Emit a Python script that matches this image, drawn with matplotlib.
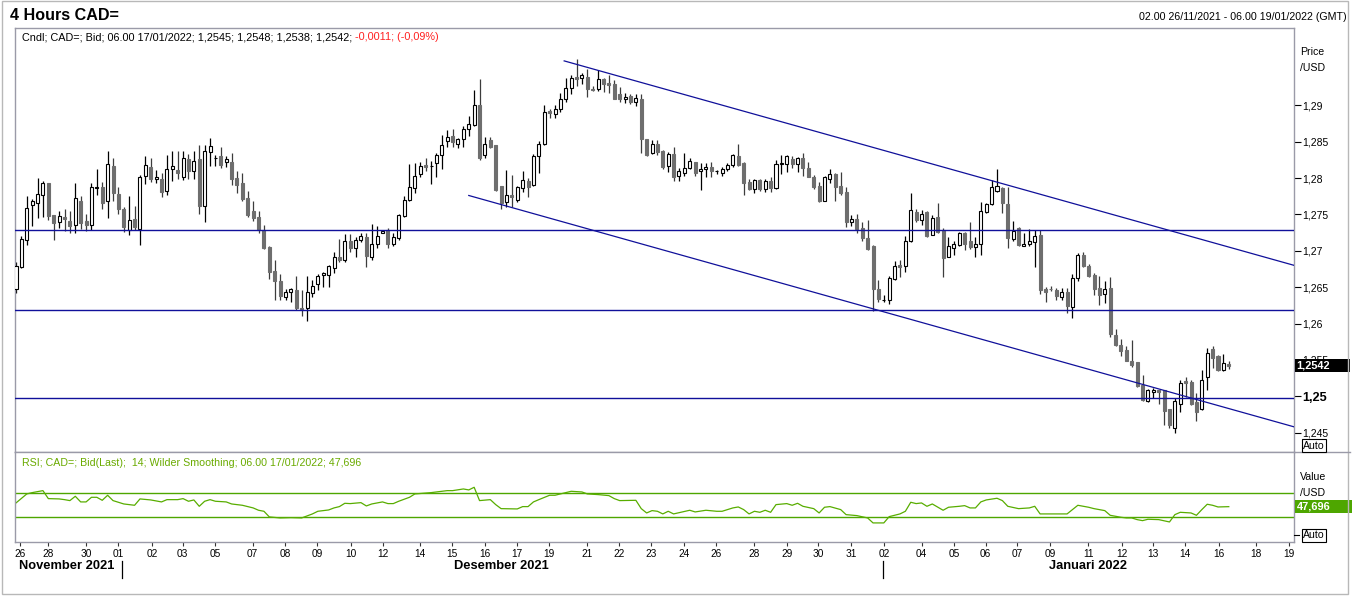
import numpy as np
import matplotlib
matplotlib.use("Agg")
import matplotlib.pyplot as plt
from matplotlib.patches import Rectangle
from matplotlib.lines import Line2D
import matplotlib.transforms as mtransforms

plt.rcParams['font.family'] = ['Liberation Sans', 'DejaVu Sans']

# 4h candles CAD=, 02.00 26/11/2021 .. 06.00 17/01/2022
opens = [
    1.2648, 1.2678, 1.2715, 1.2763, 1.2765, 1.2776, 1.2793, 1.2749, 1.2739, 1.2747,
    1.2741, 1.2735, 1.2769, 1.2741, 1.2736, 1.2786, 1.2787, 1.2768, 1.2816, 1.2778,
    1.2757, 1.2729, 1.2743, 1.2730, 1.2803, 1.2815, 1.2799, 1.2798, 1.2782, 1.2813,
    1.2811, 1.2802, 1.2826, 1.2810, 1.2826, 1.2762, 1.2836, 1.2827, 1.2830, 1.2822,
    1.2822, 1.2800, 1.2793, 1.2772, 1.2755, 1.2746, 1.2728, 1.2705, 1.2672, 1.2658,
    1.2637, 1.2643, 1.2646, 1.2622, 1.2621, 1.2642, 1.2654, 1.2667, 1.2667, 1.2677,
    1.2691, 1.2688, 1.2713, 1.2704, 1.2715, 1.2719, 1.2692, 1.2710, 1.2725, 1.2729,
    1.2709, 1.2717, 1.2748, 1.2770, 1.2786, 1.2806, 1.2818, 1.2816, 1.2820, 1.2832,
    1.2851, 1.2858, 1.2847, 1.2853, 1.2867, 1.2873, 1.2901, 1.2832, 1.2852, 1.2845,
    1.2789, 1.2767, 1.2776, 1.2770, 1.2786, 1.2796, 1.2790, 1.2830, 1.2847, 1.2892,
    1.2888, 1.2895, 1.2909, 1.2924, 1.2939, 1.2937, 1.2939, 1.2923, 1.2922, 1.2936,
    1.2931, 1.2929, 1.2915, 1.2908, 1.2913, 1.2904, 1.2909, 1.2854, 1.2834, 1.2847,
    1.2837, 1.2817, 1.2833, 1.2803, 1.2807, 1.2814, 1.2822, 1.2810, 1.2812, 1.2815,
    1.2810, 1.2807, 1.2812, 1.2818, 1.2830, 1.2821, 1.2795, 1.2785, 1.2797, 1.2785,
    1.2796, 1.2786, 1.2819, 1.2819, 1.2826, 1.2819, 1.2827, 1.2814, 1.2802, 1.2789,
    1.2769, 1.2799, 1.2805, 1.2789, 1.2781, 1.2739, 1.2743, 1.2731, 1.2717, 1.2706,
    1.2647, 1.2632, 1.2632, 1.2661, 1.2680, 1.2679, 1.2714, 1.2753, 1.2742, 1.2753,
    1.2722, 1.2746, 1.2728, 1.2692, 1.2704, 1.2708, 1.2724, 1.2713, 1.2705, 1.2709,
    1.2753, 1.2764, 1.2782, 1.2786, 1.2764, 1.2716, 1.2731, 1.2707, 1.2710, 1.2712,
    1.2722, 1.2647, 1.2648, 1.2646, 1.2637, 1.2643, 1.2623, 1.2662, 1.2694, 1.2679,
    1.2667, 1.2649, 1.2640, 1.2649, 1.2584, 1.2571, 1.2563, 1.2549, 1.2547, 1.2515,
    1.2494, 1.2506, 1.2508, 1.2508, 1.2483, 1.2457, 1.2490, 1.2521, 1.2520, 1.2492,
    1.2482, 1.2527, 1.2565, 1.2556, 1.2536, 1.2545,
]
highs = [
    1.2685, 1.2720, 1.2775, 1.2771, 1.2800, 1.2796, 1.2793, 1.2749, 1.2754, 1.2758,
    1.2754, 1.2793, 1.2775, 1.2750, 1.2793, 1.2812, 1.2794, 1.2837, 1.2827, 1.2787,
    1.2760, 1.2775, 1.2761, 1.2804, 1.2830, 1.2827, 1.2811, 1.2807, 1.2832, 1.2837,
    1.2837, 1.2837, 1.2833, 1.2837, 1.2845, 1.2846, 1.2855, 1.2831, 1.2843, 1.2830,
    1.2835, 1.2809, 1.2807, 1.2782, 1.2769, 1.2755, 1.2736, 1.2706, 1.2687, 1.2668,
    1.2648, 1.2649, 1.2665, 1.2646, 1.2666, 1.2660, 1.2668, 1.2671, 1.2681, 1.2698,
    1.2716, 1.2723, 1.2723, 1.2719, 1.2724, 1.2725, 1.2737, 1.2734, 1.2729, 1.2731,
    1.2725, 1.2751, 1.2775, 1.2819, 1.2821, 1.2822, 1.2827, 1.2823, 1.2835, 1.2859,
    1.2866, 1.2868, 1.2855, 1.2871, 1.2885, 1.2921, 1.2936, 1.2857, 1.2857, 1.2846,
    1.2789, 1.2811, 1.2804, 1.2789, 1.2809, 1.2800, 1.2833, 1.2851, 1.2901, 1.2895,
    1.2901, 1.2917, 1.2937, 1.2941, 1.2963, 1.2944, 1.2950, 1.2927, 1.2948, 1.2938,
    1.2942, 1.2935, 1.2925, 1.2917, 1.2916, 1.2915, 1.2916, 1.2854, 1.2852, 1.2852,
    1.2839, 1.2836, 1.2842, 1.2814, 1.2834, 1.2827, 1.2822, 1.2821, 1.2821, 1.2822,
    1.2811, 1.2815, 1.2820, 1.2833, 1.2847, 1.2822, 1.2799, 1.2799, 1.2798, 1.2799,
    1.2802, 1.2825, 1.2831, 1.2832, 1.2830, 1.2829, 1.2835, 1.2822, 1.2804, 1.2795,
    1.2803, 1.2812, 1.2807, 1.2808, 1.2788, 1.2749, 1.2750, 1.2740, 1.2742, 1.2708,
    1.2660, 1.2639, 1.2666, 1.2686, 1.2688, 1.2720, 1.2780, 1.2758, 1.2756, 1.2754,
    1.2749, 1.2766, 1.2731, 1.2719, 1.2714, 1.2726, 1.2726, 1.2740, 1.2719, 1.2767,
    1.2765, 1.2797, 1.2813, 1.2787, 1.2788, 1.2741, 1.2732, 1.2724, 1.2730, 1.2728,
    1.2728, 1.2650, 1.2651, 1.2649, 1.2649, 1.2649, 1.2668, 1.2697, 1.2698, 1.2682,
    1.2670, 1.2666, 1.2659, 1.2664, 1.2592, 1.2579, 1.2569, 1.2577, 1.2547, 1.2529,
    1.2510, 1.2511, 1.2509, 1.2509, 1.2483, 1.2497, 1.2523, 1.2527, 1.2522, 1.2504,
    1.2536, 1.2567, 1.2569, 1.2557, 1.2558, 1.2548,
]
lows = [
    1.2642, 1.2677, 1.2708, 1.2734, 1.2745, 1.2747, 1.2742, 1.2715, 1.2731, 1.2727,
    1.2724, 1.2725, 1.2730, 1.2727, 1.2728, 1.2776, 1.2758, 1.2745, 1.2768, 1.2750,
    1.2726, 1.2721, 1.2728, 1.2708, 1.2792, 1.2794, 1.2793, 1.2774, 1.2777, 1.2796,
    1.2799, 1.2797, 1.2799, 1.2798, 1.2751, 1.2739, 1.2816, 1.2816, 1.2814, 1.2815,
    1.2791, 1.2779, 1.2768, 1.2747, 1.2741, 1.2724, 1.2702, 1.2661, 1.2633, 1.2633,
    1.2632, 1.2630, 1.2618, 1.2611, 1.2604, 1.2636, 1.2646, 1.2650, 1.2650, 1.2669,
    1.2684, 1.2684, 1.2698, 1.2691, 1.2712, 1.2678, 1.2687, 1.2704, 1.2724, 1.2704,
    1.2707, 1.2715, 1.2746, 1.2769, 1.2780, 1.2801, 1.2809, 1.2792, 1.2802, 1.2813,
    1.2842, 1.2843, 1.2841, 1.2842, 1.2858, 1.2871, 1.2825, 1.2828, 1.2841, 1.2782,
    1.2758, 1.2760, 1.2760, 1.2767, 1.2781, 1.2774, 1.2789, 1.2807, 1.2846, 1.2882,
    1.2882, 1.2891, 1.2905, 1.2915, 1.2927, 1.2929, 1.2911, 1.2920, 1.2920, 1.2918,
    1.2917, 1.2908, 1.2905, 1.2903, 1.2902, 1.2899, 1.2834, 1.2830, 1.2833, 1.2831,
    1.2813, 1.2808, 1.2796, 1.2796, 1.2803, 1.2813, 1.2803, 1.2784, 1.2802, 1.2802,
    1.2806, 1.2803, 1.2809, 1.2815, 1.2817, 1.2777, 1.2783, 1.2779, 1.2782, 1.2781,
    1.2781, 1.2785, 1.2806, 1.2808, 1.2814, 1.2808, 1.2803, 1.2801, 1.2785, 1.2767,
    1.2768, 1.2793, 1.2768, 1.2776, 1.2732, 1.2734, 1.2725, 1.2713, 1.2701, 1.2617,
    1.2630, 1.2630, 1.2627, 1.2660, 1.2664, 1.2671, 1.2712, 1.2740, 1.2735, 1.2719,
    1.2721, 1.2724, 1.2664, 1.2691, 1.2694, 1.2707, 1.2701, 1.2703, 1.2691, 1.2694,
    1.2752, 1.2763, 1.2781, 1.2752, 1.2704, 1.2714, 1.2706, 1.2706, 1.2706, 1.2678,
    1.2640, 1.2630, 1.2645, 1.2632, 1.2633, 1.2614, 1.2608, 1.2659, 1.2678, 1.2664,
    1.2639, 1.2626, 1.2628, 1.2581, 1.2569, 1.2555, 1.2548, 1.2540, 1.2513, 1.2494,
    1.2492, 1.2497, 1.2490, 1.2460, 1.2456, 1.2450, 1.2478, 1.2499, 1.2488, 1.2466,
    1.2481, 1.2508, 1.2539, 1.2535, 1.2535, 1.2538,
]
closes = [
    1.2679, 1.2716, 1.2759, 1.2768, 1.2778, 1.2793, 1.2748, 1.2738, 1.2748, 1.2744,
    1.2734, 1.2773, 1.2738, 1.2736, 1.2788, 1.2787, 1.2766, 1.2819, 1.2779, 1.2758,
    1.2733, 1.2742, 1.2732, 1.2802, 1.2818, 1.2799, 1.2802, 1.2781, 1.2812, 1.2816,
    1.2807, 1.2827, 1.2810, 1.2823, 1.2762, 1.2837, 1.2844, 1.2828, 1.2818, 1.2826,
    1.2799, 1.2791, 1.2771, 1.2749, 1.2745, 1.2728, 1.2704, 1.2671, 1.2658, 1.2638,
    1.2643, 1.2647, 1.2622, 1.2620, 1.2644, 1.2651, 1.2665, 1.2670, 1.2679, 1.2692,
    1.2687, 1.2713, 1.2704, 1.2715, 1.2720, 1.2693, 1.2710, 1.2720, 1.2727, 1.2709,
    1.2719, 1.2749, 1.2770, 1.2788, 1.2803, 1.2817, 1.2815, 1.2817, 1.2831, 1.2846,
    1.2857, 1.2849, 1.2853, 1.2867, 1.2874, 1.2901, 1.2828, 1.2847, 1.2843, 1.2784,
    1.2766, 1.2776, 1.2774, 1.2787, 1.2797, 1.2788, 1.2830, 1.2847, 1.2891, 1.2889,
    1.2895, 1.2909, 1.2924, 1.2938, 1.2936, 1.2941, 1.2922, 1.2921, 1.2936, 1.2929,
    1.2928, 1.2909, 1.2909, 1.2912, 1.2905, 1.2910, 1.2853, 1.2831, 1.2847, 1.2836,
    1.2815, 1.2833, 1.2802, 1.2809, 1.2814, 1.2823, 1.2807, 1.2813, 1.2815, 1.2810,
    1.2810, 1.2812, 1.2818, 1.2831, 1.2818, 1.2793, 1.2785, 1.2797, 1.2785, 1.2796,
    1.2786, 1.2819, 1.2821, 1.2830, 1.2819, 1.2827, 1.2814, 1.2802, 1.2788, 1.2769,
    1.2802, 1.2805, 1.2788, 1.2780, 1.2740, 1.2744, 1.2730, 1.2718, 1.2703, 1.2647,
    1.2634, 1.2633, 1.2663, 1.2679, 1.2678, 1.2714, 1.2756, 1.2742, 1.2751, 1.2720,
    1.2745, 1.2726, 1.2690, 1.2706, 1.2710, 1.2724, 1.2710, 1.2705, 1.2709, 1.2754,
    1.2764, 1.2788, 1.2789, 1.2765, 1.2718, 1.2727, 1.2708, 1.2710, 1.2713, 1.2720,
    1.2646, 1.2643, 1.2647, 1.2638, 1.2643, 1.2624, 1.2662, 1.2694, 1.2679, 1.2665,
    1.2648, 1.2639, 1.2647, 1.2585, 1.2571, 1.2562, 1.2549, 1.2543, 1.2514, 1.2495,
    1.2508, 1.2508, 1.2506, 1.2480, 1.2460, 1.2493, 1.2518, 1.2518, 1.2490, 1.2478,
    1.2523, 1.2560, 1.2553, 1.2536, 1.2546, 1.2542,
]

# RSI(14): bar index -> value
rsi_bar = [0, 2, 3, 5, 6, 8, 9, 10, 11, 12, 13, 14, 15, 16, 17, 18, 20, 22, 23, 25,
           27, 28, 30, 31, 32, 33, 34, 35, 36, 37, 39, 40, 42, 44, 45, 46, 47, 49, 51, 53,
           55, 56, 58, 59, 60, 61, 62, 64, 65, 66, 68, 69, 70, 71, 73, 74, 77, 79, 80, 81,
           83, 84, 85, 86, 88, 89, 90, 93, 94, 95, 96, 97, 99, 100, 102, 103, 105, 106, 108, 110,
           111, 112, 115, 116, 117, 118, 119, 120, 121, 122, 125, 126, 128, 130, 131, 133, 134, 135, 136, 137,
           138, 139, 140, 141, 143, 144, 145, 146, 148, 149, 150, 151, 153, 154, 156, 158, 159, 161, 162, 164,
           165, 166, 167, 168, 169, 170, 172, 173, 175, 176, 177, 178, 179, 180, 182, 183, 184, 186, 188, 189,
           190, 192, 195, 196, 197, 199, 200, 202, 203, 205, 206, 207, 208, 209, 210, 212, 214, 215, 216, 218,
           219, 220, 221, 222, 223, 225]
rsi_val = [53.9, 68.9, 71.1, 74.4, 61.1, 60.6, 59.4, 57.8, 65.0, 55.6, 55.6, 63.3, 63.3, 58.3, 66.7, 57.8, 52.2, 50.0, 60.6, 58.9,
           55.6, 59.4, 59.4, 61.1, 56.7, 58.9, 48.3, 56.7, 59.4, 56.7, 55.6, 52.2, 50.0, 45.6, 41.7, 40.0, 30.6, 28.9, 29.4, 28.9,
           35.6, 40.0, 42.2, 45.6, 47.8, 53.3, 52.8, 54.4, 48.9, 52.2, 55.6, 52.8, 52.8, 56.7, 63.3, 68.9, 71.1, 73.3, 74.4, 74.4,
           77.2, 75.6, 80.0, 57.8, 59.4, 51.1, 44.4, 43.9, 47.8, 47.8, 55.6, 59.4, 66.7, 66.7, 71.1, 73.3, 72.2, 68.9, 67.8, 66.1,
           61.1, 57.8, 58.3, 44.4, 37.2, 41.1, 40.0, 35.6, 40.0, 35.6, 41.7, 38.9, 41.7, 40.0, 40.0, 45.6, 47.2, 42.8, 35.6, 40.0,
           38.3, 41.7, 38.3, 51.1, 52.8, 50.0, 53.3, 48.3, 44.4, 37.2, 46.7, 47.8, 42.8, 34.4, 32.8, 28.9, 20.6, 20.6, 31.1, 35.6,
           40.0, 55.0, 52.8, 53.9, 48.3, 52.2, 41.7, 46.7, 48.3, 49.4, 45.6, 45.6, 55.6, 58.9, 61.7, 57.8, 48.3, 44.4, 45.6, 48.3,
           35.6, 35.6, 35.6, 42.8, 50.0, 46.7, 44.4, 41.1, 33.3, 30.0, 28.9, 28.9, 26.1, 24.4, 26.7, 26.1, 22.2, 34.4, 38.3, 37.2,
           33.3, 42.8, 51.7, 50.0, 47.2, 47.7]

# day labels on the time axis and their bar positions
tick_pos = [0.7, 5.9, 13.0, 19.0, 25.2, 30.9, 36.9, 43.9, 49.9, 55.9, 62.1, 68.1, 75.0, 80.9,
            87.0, 93.0, 98.9, 106.0, 111.9, 117.8, 123.9, 129.9, 137.0, 143.0, 148.8, 154.9,
            161.0, 168.0, 174.0, 179.9, 185.8, 191.9, 198.9, 205.1, 211.0, 216.9, 223.1, 230.0, 236.2]
tick_lbl = ['26', '28', '30', '01', '02', '03', '05', '07', '08', '09', '10', '12', '14', '15',
            '16', '17', '19', '21', '22', '23', '24', '26', '28', '29', '30', '31',
            '02', '04', '05', '06', '07', '09', '11', '12', '13', '14', '16', '18', '19']
month_lbl = ['November 2021', 'Desember 2021', 'Januari 2022']
month_pos = [0.6, 81.3, 191.6]
month_sep = [19.6, 160.9]

# drawn lines: horizontal levels and the falling channel (bar, price)
levels = [1.2728, 1.2618, 1.2497]
chan_top = ([101.7, 237.1], [1.2961, 1.2680])
chan_bot = ([84.0, 237.1], [1.2776, 1.2458])

price_ticks = [1.245, 1.25, 1.255, 1.26, 1.265, 1.27, 1.275, 1.28, 1.285, 1.29]
last_price = 1.2542
last_rsi = 47.696

W, H = 1352, 596
FRAME = '#9a9aa8'
NAVY = '#10109a'
GREEN = '#4ea600'
FS = 7.8

def fx(px): return px / W
def fy(py): return 1 - py / H

fig = plt.figure(figsize=(W / 100, H / 100), dpi=100)
fig.patch.set_facecolor('white')

ax = fig.add_axes([fx(14.7), fy(452.3), fx(1294) - fx(14.7), fy(28.3) - fy(452.3)])
rax = fig.add_axes([fx(14.7), fy(542.3), fx(1294) - fx(14.7), fy(452.3) - fy(542.3)])

for a in (ax, rax):
    for s in a.spines.values():
        s.set_color(FRAME)
        s.set_linewidth(1)
    a.set_xlim(-0.24, 237.1)

ax.set_ylim(1.24230, 1.30058)
rax.set_ylim(-11.7, 138.3)

# candles
O = np.array(opens); Hh = np.array(highs); L = np.array(lows); C = np.array(closes)
x = np.arange(len(C))
up = C >= O
ax.vlines(x, L, Hh, colors=np.where(up, 'black', '#3c3c3c'), lw=0.9, zorder=2)
ax.bar(x, np.abs(C - O), bottom=np.minimum(O, C), width=0.56,
       color=np.where(up, 'white', '#6e6e6e'), edgecolor=np.where(up, 'black', '#6e6e6e'),
       linewidth=0.8, zorder=3)

for lv in levels:
    ax.axhline(lv, color=NAVY, lw=1, zorder=4)
ax.plot(*chan_top, color=NAVY, lw=0.9, zorder=4)
ax.plot(*chan_bot, color=NAVY, lw=0.9, zorder=4)

# price axis on the right
ax.set_xticks([])
ax.yaxis.tick_right()
ax.set_yticks(price_ticks)
ax.set_yticklabels([('%g' % t).replace('.', ',') for t in price_ticks])
ax.tick_params(axis='y', length=5, width=0.8, pad=1, labelsize=7.5, color='black')
for lab in ax.get_yticklabels():
    if lab.get_text() == '1,25':
        lab.set_fontweight('bold')
        lab.set_fontsize(9.2)

# RSI panel
rax.axhline(70, color=GREEN, lw=1)
rax.axhline(30, color=GREEN, lw=1)
rax.plot(rsi_bar, rsi_val, color='#58ad00', lw=0.9)
rax.set_yticks([])
rax.set_xticks(tick_pos)
rax.set_xticklabels(tick_lbl)
rax.tick_params(axis='x', length=3, width=0.8, pad=1.8, labelsize=7.3, color='#333333')

# month labels and separators under the time axis
tb = mtransforms.blended_transform_factory(rax.transData, rax.transAxes)
for name, p in zip(month_lbl, month_pos):
    rax.text(p, -0.26, name, transform=tb, fontsize=9.3, fontweight='bold',
             ha='left', va='center', clip_on=False)
for p in month_sep:
    rax.add_line(Line2D([p, p], [-0.21, -0.4], color='black', lw=0.9, transform=tb, clip_on=False))

# header texts
fig.text(fx(10), fy(15), '4 Hours CAD=', fontsize=11.6, fontweight='bold', va='center')
fig.text(fx(1346.5), fy(16.5), '02.00 26/11/2021 - 06.00 19/01/2022 (GMT)', fontsize=7.7,
         ha='right', va='center')
t1 = fig.text(fx(22), fy(37.3), 'Cndl; CAD=; Bid; 06.00 17/01/2022; 1,2545; 1,2548; 1,2538; 1,2542; ',
              fontsize=FS, va='center')
fig.canvas.draw()
bb = t1.get_window_extent()
fig.text(bb.x1 / W, fy(37.3), '-0,0011; (-0,09%)', fontsize=FS, va='center', color='#ff2020')
fig.text(fx(22), fy(462.7), 'RSI; CAD=; Bid(Last);  14; Wilder Smoothing; 06.00 17/01/2022; 47,696',
         fontsize=7.7, va='center', color='#6aab00')

# right side captions and value boxes
fig.text(fx(1300), fy(52.3), 'Price', fontsize=7.6, va='center')
fig.text(fx(1300), fy(68.3), '/USD', fontsize=7.6, va='center')
fig.text(fx(1300), fy(476.7), 'Value', fontsize=7.6, va='center')
fig.text(fx(1300), fy(492.7), '/USD', fontsize=7.6, va='center')

bt = mtransforms.blended_transform_factory(fig.transFigure, ax.transData)
ax.add_patch(Rectangle((fx(1295), last_price - 0.00088), fx(1350) - fx(1295), 0.00176,
                       transform=bt, facecolor='black', edgecolor='none', clip_on=False, zorder=10))
ax.text(fx(1296.5), last_price, ('%.4f' % last_price).replace('.', ','), transform=bt,
        color='white', fontsize=7.9, fontweight='bold', va='center', ha='left', clip_on=False, zorder=11)

rt = mtransforms.blended_transform_factory(fig.transFigure, rax.transData)
rax.add_patch(Rectangle((fx(1295), last_rsi - 11.3), fx(1352) - fx(1295), 22.6,
                        transform=rt, facecolor=GREEN, edgecolor='none', clip_on=False, zorder=10))
rax.text(fx(1296.5), last_rsi, ('%.3f' % last_rsi).replace('.', ','), transform=rt,
         color='white', fontsize=7.9, fontweight='bold', va='center', ha='left', clip_on=False, zorder=11)

for yy in (445.7, 535.3):
    fig.text(fx(1303), fy(yy), 'Auto', fontsize=7.6, va='center', ha='left',
             bbox=dict(boxstyle='square,pad=0.12', facecolor='white', edgecolor='black', lw=0.8))
fig.add_artist(Line2D([fx(1294), fx(1299)], [fy(535.3), fy(535.3)], color='black', lw=0.8))

# panel divider running into the scale area, outer border
fig.add_artist(Line2D([fx(1294), fx(1350)], [fy(452.3), fy(452.3)], color=FRAME, lw=1))
fig.add_artist(Rectangle((fx(1.7), fy(594)), fx(1347.7) - fx(1.7), fy(0.8) - fy(594),
                         transform=fig.transFigure, facecolor='none', edgecolor='#b8b8b8', lw=1))

fig.savefig('out.png', dpi=100)
